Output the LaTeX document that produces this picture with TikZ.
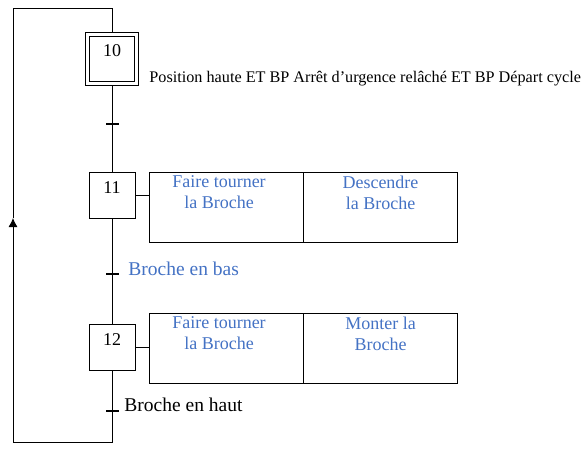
\documentclass[tikz,border=0pt]{standalone}
\usepackage{fontspec}
\setmainfont{Liberation Serif}
\usetikzlibrary{positioning,calc,arrows,arrows.meta}
\definecolor{actblue}{RGB}{68,114,196}
\tikzset{font=\fontsize{18}{21}\selectfont}

\begin{document}
\begin{tikzpicture}[x=1pt, y=-1pt]
	\useasboundingbox (0,0) rectangle (587,460);
	\begin{scope}[line width=0.9pt]
		\tikzstyle{etape}=[draw, inner sep=0pt, minimum width=46pt, text height=21pt, text depth=25pt]
		\tikzstyle{cadre}=[draw, inner sep=0pt, minimum width=53pt, minimum height=53pt]
		\tikzstyle{trans}=[fill, inner sep=0pt, minimum width=13pt, minimum height=2pt]
		\tikzstyle{cell}=[draw, inner sep=0pt, minimum width=154pt, minimum height=70pt]
		\tikzstyle{acttxt}=[inner sep=0pt, align=center, text=actblue]
		\tikzstyle{recept}=[anchor=base west, inner sep=0pt, font=\fontsize{19.5}{21}\selectfont]

		\node[cadre] (e10b) at (112, 58.5) {};
		\node[etape, minimum width=45pt, text height=21pt, text depth=24pt] (e10) at (112, 58.5) {10};
		\node[etape] (e11) at (112, 195.5) {11};
		\node[etape] (e12) at (112, 347) {12};

		\node[trans] (t1) at (112, 124) {};
		\node[trans] (t2) at (112, 274) {};
		\node[trans] (t3) at (112, 411) {};

		\node[recept, font=\fontsize{16.2}{18}\selectfont] (r1) at (149, 83) {Position haute ET BP Arrêt d’urgence relâché ET BP Départ cycle};
		\node[recept, text=actblue] (r2) at (128, 275) {Broche en bas};
		\node[recept] (r3) at (124, 411.5) {Broche en haut};

		\node[cell] (a11a) at (226, 207) {};
		\node[cell] (a11b) at (380.5, 207) {};
		\node[cell] (a12a) at (226, 348) {};
		\node[cell] (a12b) at (380.5, 348) {};

		\node[acttxt, below=4pt of a11a.north, xshift=-7pt] (x11a) {Faire tourner\\la Broche};
		\node[acttxt, below=4pt of a11b.north] (x11b) {Descendre\\la Broche};
		\node[acttxt, below=4pt of a12a.north, xshift=-7pt] (x12a) {Faire tourner\\la Broche};
		\node[acttxt, below=4pt of a12b.north] (x12b) {Monter la\\Broche};

		\coordinate (bl) at (13, 442);
		\coordinate (arr) at (13, 218);
		\coordinate (tl) at (13, 8);

		\draw (e10b) -- (t1) -- (e11);
		\draw (e11) -- (t2) -- (e12);
		\draw (e12) -- (t3);
		\draw (e11.east) -- (e11.east -| a11a.west);
		\draw (e12.east) -- (e12.east -| a12a.west);

		\draw (t3) |- (bl);
		\draw [->, >={Latex[length=9pt, width=9pt]}] (bl) -- (arr);
		\draw (arr) -- (tl) -- (tl -| e10b.north) -- (e10b.north);
	\end{scope}
\end{tikzpicture}
\end{document}
